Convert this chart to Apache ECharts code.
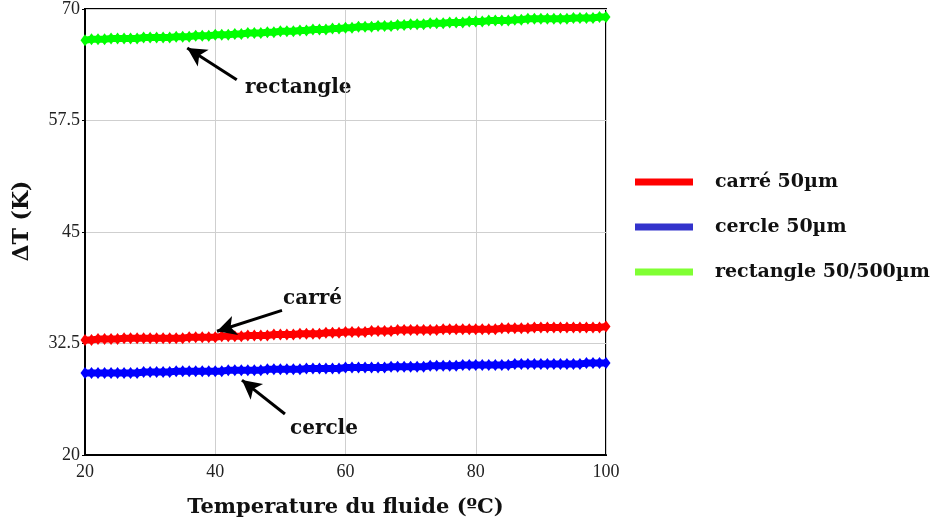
<!DOCTYPE html>
<html><head><meta charset="utf-8">
<script src="https://cdn.jsdelivr.net/npm/echarts@6/dist/echarts.min.js"></script>
<style>html,body{margin:0;padding:0;background:#fff}#c{width:934px;height:529px}</style>
</head><body><div id="c"></div>
<script>
const temperatures = [20,21,22,23,24,25,26,27,28,29,30,31,32,33,34,35,36,37,38,39,40,41,42,43,44,45,46,47,48,49,50,51,52,53,54,55,56,57,58,59,60,61,62,63,64,65,66,67,68,69,70,71,72,73,74,75,76,77,78,79,80,81,82,83,84,85,86,87,88,89,90,91,92,93,94,95,96,97,98,99,100];
const carre = [32.9,32.9,33.0,33.0,33.0,33.0,33.1,33.1,33.1,33.1,
33.1,33.1,33.1,33.1,33.1,33.1,33.2,33.2,33.2,33.2,
33.2,33.3,33.3,33.3,33.3,33.4,33.4,33.4,33.4,33.5,
33.5,33.5,33.5,33.6,33.6,33.6,33.6,33.7,33.7,33.7,
33.8,33.8,33.8,33.8,33.9,33.9,33.9,33.9,34.0,34.0,
34.0,34.0,34.0,34.0,34.0,34.1,34.1,34.1,34.1,34.1,
34.1,34.1,34.1,34.1,34.2,34.2,34.2,34.2,34.2,34.3,
34.3,34.3,34.3,34.3,34.3,34.3,34.3,34.3,34.3,34.3,34.4];
const cercle = [29.2,29.2,29.2,29.2,29.2,29.2,29.2,29.2,29.2,29.3,
29.3,29.3,29.3,29.3,29.4,29.4,29.4,29.4,29.4,29.4,
29.4,29.4,29.5,29.5,29.5,29.5,29.5,29.5,29.6,29.6,
29.6,29.6,29.6,29.6,29.7,29.7,29.7,29.7,29.7,29.7,
29.8,29.8,29.8,29.8,29.8,29.8,29.8,29.9,29.9,29.9,
29.9,29.9,29.9,30.0,30.0,30.0,30.0,30.0,30.1,30.1,
30.1,30.1,30.1,30.1,30.1,30.1,30.2,30.2,30.2,30.2,
30.2,30.2,30.2,30.2,30.2,30.2,30.2,30.3,30.3,30.3,30.3];
const rectangle = [66.5,66.6,66.6,66.6,66.7,66.7,66.7,66.7,66.7,66.8,
66.8,66.8,66.8,66.8,66.9,66.9,66.9,67.0,67.0,67.0,
67.1,67.1,67.1,67.2,67.2,67.3,67.3,67.3,67.4,67.4,
67.5,67.5,67.5,67.6,67.6,67.7,67.7,67.7,67.8,67.8,
67.9,67.9,68.0,68.0,68.0,68.1,68.1,68.1,68.2,68.2,
68.3,68.3,68.3,68.4,68.4,68.4,68.5,68.5,68.5,68.6,
68.6,68.6,68.7,68.7,68.7,68.7,68.8,68.8,68.9,68.9,
68.9,68.9,68.9,68.9,68.9,69.0,69.0,69.0,69.0,69.1,69.1];
const seriesNames = ['carré 50µm','cercle 50µm','rectangle 50/500µm'];
const yTicks = [20,32.5,45,57.5,70];
const xTicks = [20,40,60,80,100];

const serif = '"Liberation Serif", "DejaVu Serif", serif';
const wide = '"DejaVu Serif", "Liberation Serif", serif';
const chart = echarts.init(document.getElementById('c'));
function pairs(arr){ return temperatures.map((t,i)=>[t,arr[i]]); }
function mkSeries(name, data, color, extra){
  return Object.assign({
    name, type:'line', data: pairs(data),
    symbol:'diamond', symbolSize:[9,12], showAllSymbol:true,
    itemStyle:{color}, lineStyle:{color, width:7},
    animation:false, z:3
  }, extra||{});
}
const arrowLine = {
  silent:true, symbol:['none','arrow'], symbolSize:[15,19],
  label:{show:false}, lineStyle:{color:'#000', width:3, type:'solid'},
  animation:false,
  data:[
    [{coord:[43.3,62.06]},{coord:[35.7,65.64]}],
    [{coord:[50.25,36.22]},{coord:[40.27,33.87]}],
    [{coord:[50.7,24.6]},{coord:[44.1,28.4]}]
  ]
};
chart.setOption({
  backgroundColor:'#fff',
  grid:{left:85,right:328,top:8,bottom:74,containLabel:false,show:true,borderColor:'#000',borderWidth:2},
  xAxis:{type:'value',min:20,max:100,interval:20,
    name:'Temperature du fluide (ºC)',nameLocation:'middle',nameGap:42,
    nameTextStyle:{fontFamily:wide,fontWeight:'bold',fontSize:21,color:'#111'},
    axisLine:{lineStyle:{color:'#000',width:2}},
    axisTick:{show:false},
    axisLabel:{fontFamily:serif,fontSize:18,color:'#222',margin:8},
    splitLine:{lineStyle:{color:'#cfcfcf',width:1}}},
  yAxis:{type:'value',min:20,max:70,interval:12.5,
    name:'ΔT (K)',nameLocation:'middle',nameGap:52,nameRotate:90,
    nameTextStyle:{fontFamily:wide,fontWeight:'bold',fontSize:22,color:'#111',padding:[0,0,0,22]},
    axisLine:{lineStyle:{color:'#000',width:2}},
    axisTick:{show:true,length:3,lineStyle:{color:'#000'}},
    axisLabel:{fontFamily:serif,fontSize:18,color:'#222',margin:5},
    splitLine:{lineStyle:{color:'#cfcfcf',width:1}}},
  legend:{orient:'vertical',left:635,top:172,padding:0,itemWidth:58,itemHeight:7,itemGap:25,icon:'rect',
    textStyle:{fontFamily:wide,fontWeight:'bold',fontSize:19,color:'#111',padding:[0,0,0,17],lineHeight:20},
    data:[
      {name:seriesNames[0],itemStyle:{color:'#ff0000'}},
      {name:seriesNames[1],itemStyle:{color:'#3333cc'}},
      {name:seriesNames[2],itemStyle:{color:'#80ff33'}}
    ]},
  series:[
    mkSeries(seriesNames[0], carre, '#ff0000', {markLine:arrowLine}),
    mkSeries(seriesNames[1], cercle, '#0000ff'),
    mkSeries(seriesNames[2], rectangle, '#00ff00')
  ],
  graphic:[
    {type:'text',left:245,top:78,style:{text:'rectangle',font:'bold 20px '+wide,fill:'#111'}},
    {type:'text',left:283,top:289,style:{text:'carré',font:'bold 20px '+wide,fill:'#111'}},
    {type:'text',left:290,top:419,style:{text:'cercle',font:'bold 20px '+wide,fill:'#111'}}
  ]
});
</script></body></html>
